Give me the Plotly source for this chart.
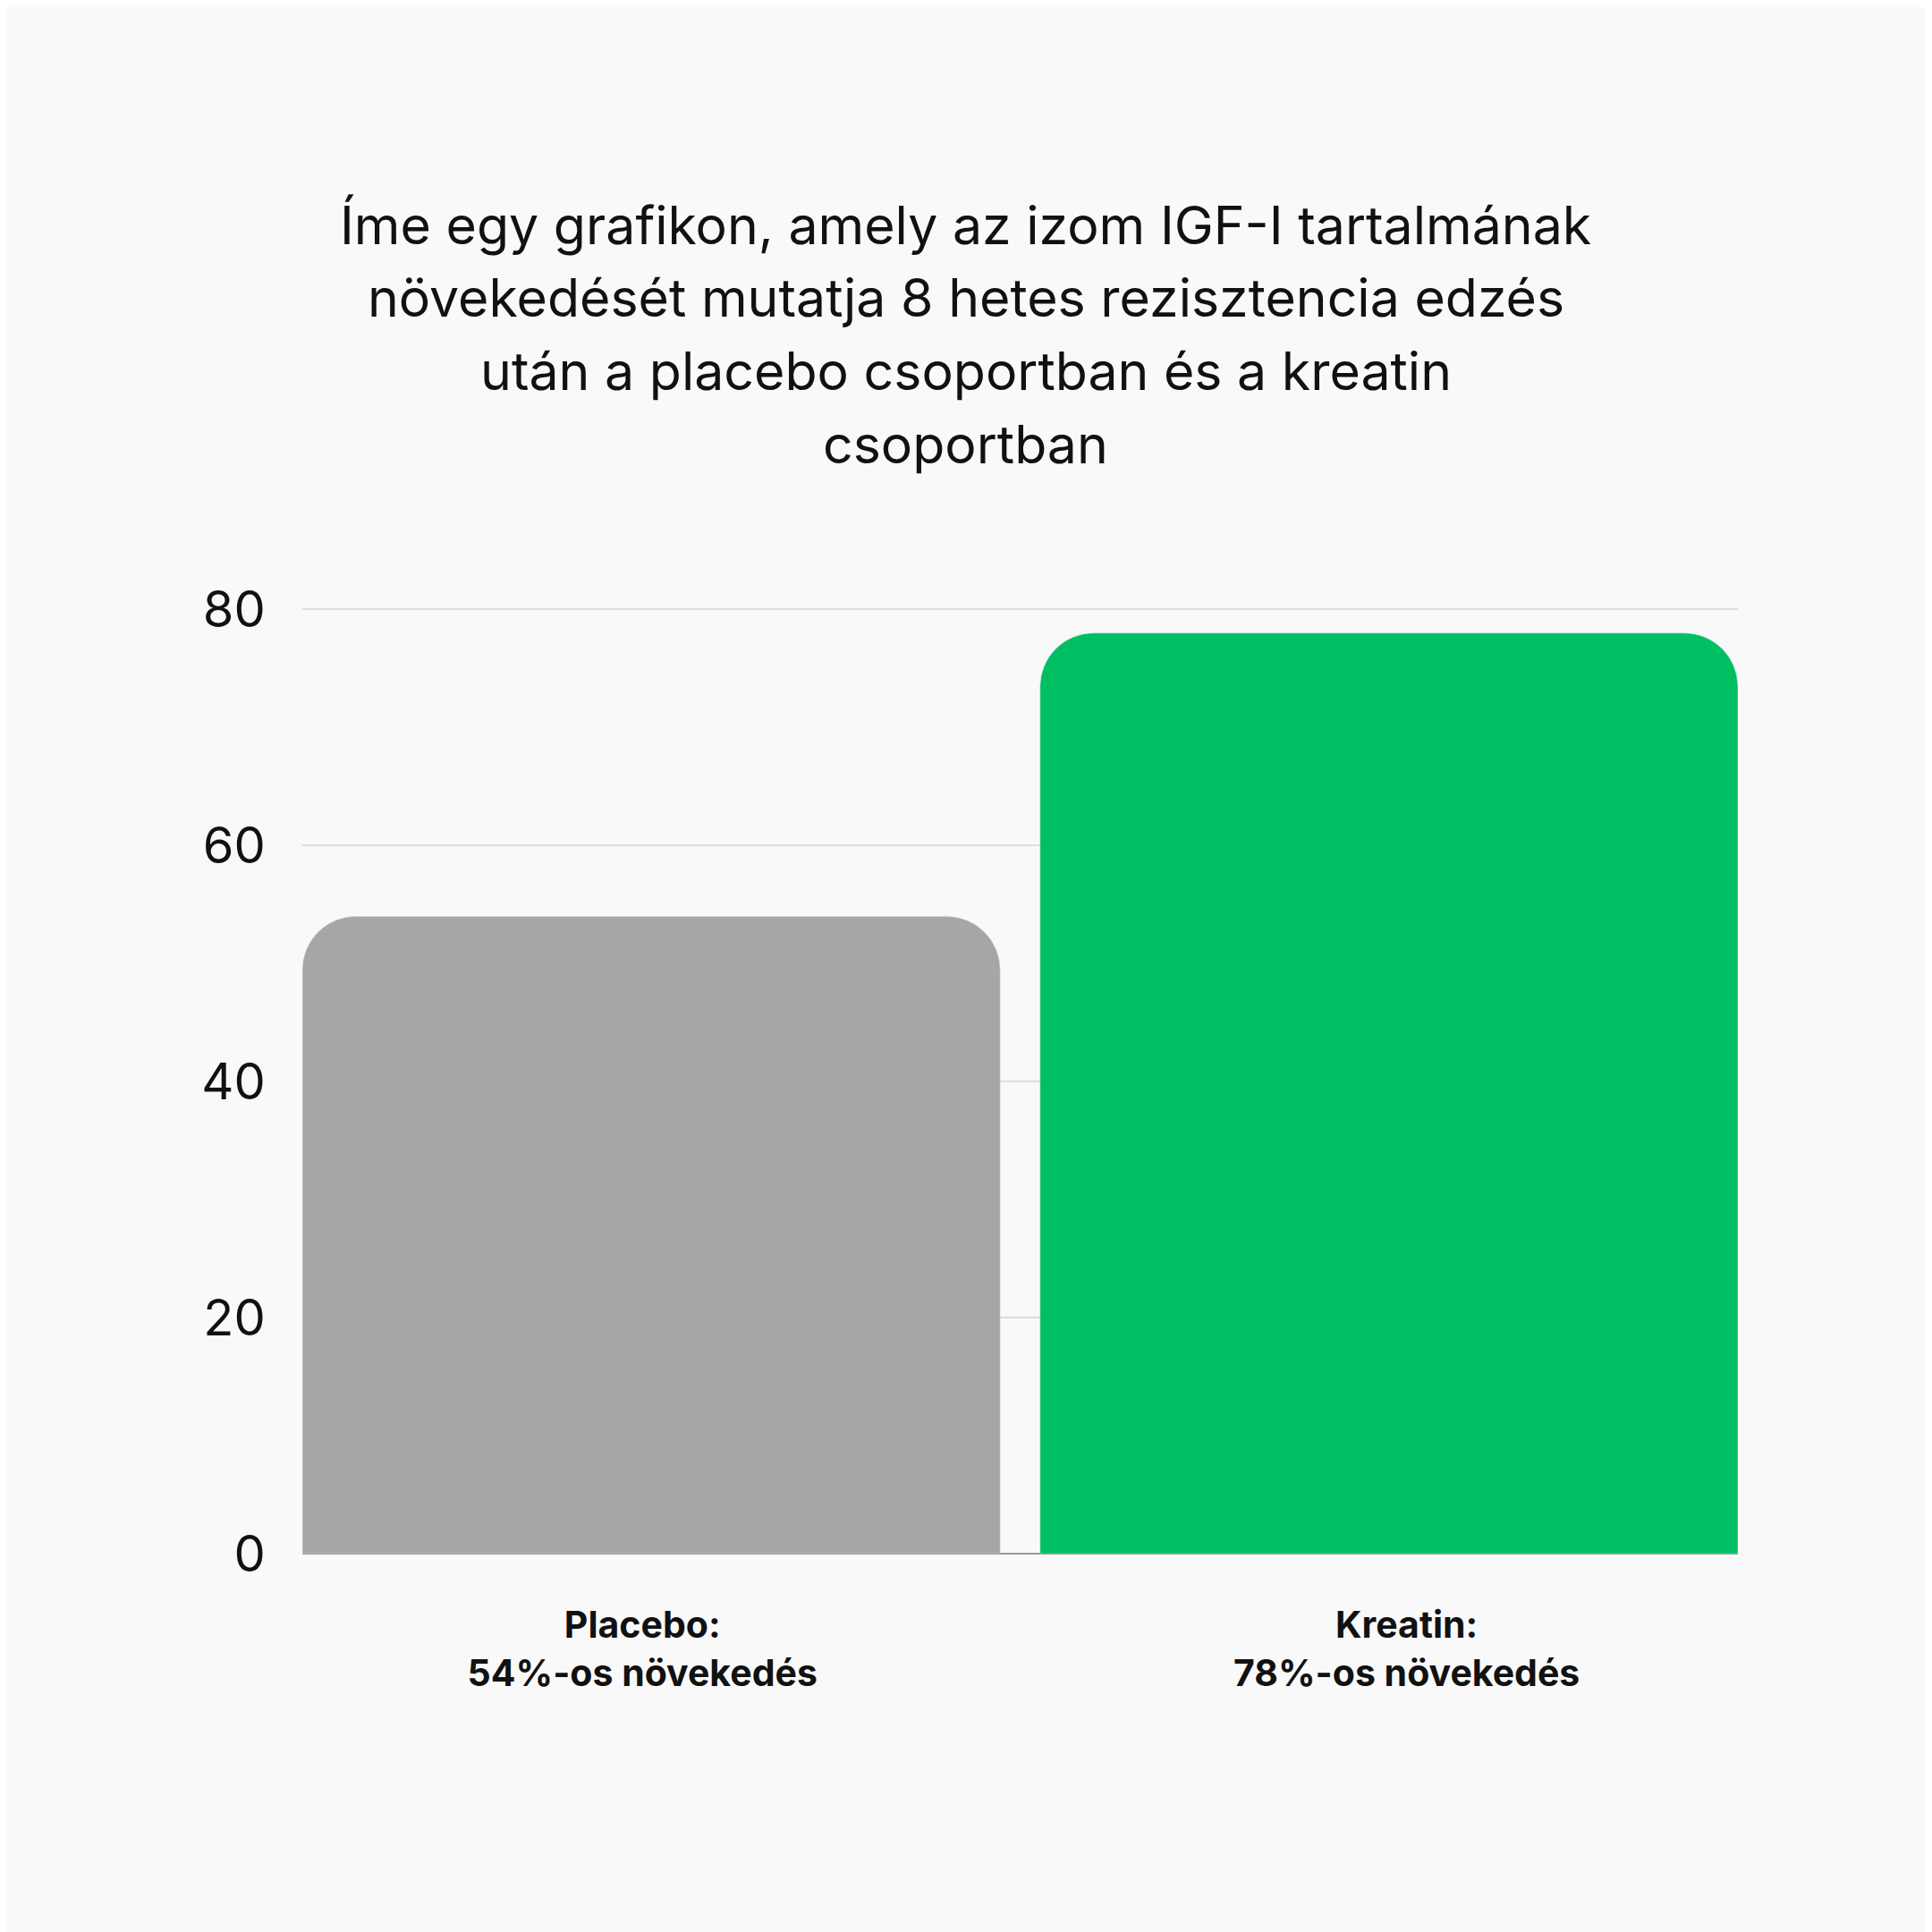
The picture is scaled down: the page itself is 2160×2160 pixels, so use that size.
import plotly.graph_objects as go

# ---------------------------------------------------------------
# data
# ---------------------------------------------------------------
categories = ['Placebo:<br>54%-os növekedés', 'Kreatin:<br>78%-os növekedés']
increase_pct = [54, 78]
bar_colors = ['#a6a6a6', '#00bf63']
y_ticks = [0, 20, 40, 60, 80]

title_lines = [
  'Íme egy grafikon, amely az izom IGF-I tartalmának',
  'növekedését mutatja 8 hetes rezisztencia edzés',
  'után a placebo csoportban és a kreatin',
  'csoportban',
]

# ---------------------------------------------------------------
# layout constants
# ---------------------------------------------------------------
BAR_GAP = 0.054
LABEL_NUDGE = [-0.012, 0.024]   # category labels sit slightly off the bar centres
TITLE_X = 0.4623                 # paper x that lands on the page centre
TITLE_TOP = 1.403                # paper y of first title line
TITLE_STEP = 0.0772              # paper distance between title lines

positions = list(range(len(categories)))

# ---------------------------------------------------------------
# figure
# ---------------------------------------------------------------
fig = go.Figure()
fig.add_trace(
  go.Bar(x=positions, y=increase_pct, marker=dict(color=bar_colors, cornerradius=60),
         hoverinfo='skip')
)

# the page has a small body margin, so margins are nudged up/left to compensate
fig.update_layout(
  width=2160, height=2160,
  paper_bgcolor='#f9f9f9', plot_bgcolor='#f9f9f9',
  font=dict(family='Inter', color='#111111'),
  margin=dict(l=330, r=225, t=670, b=431),
  bargap=BAR_GAP,
  showlegend=False,
)

# title drawn line by line to get the wider line spacing
for i, line in enumerate(title_lines):
  fig.add_annotation(
    text=line, xref='paper', yref='paper', x=TITLE_X, y=TITLE_TOP - i * TITLE_STEP,
    xanchor='center', yanchor='middle', showarrow=False,
    font=dict(size=59, color='#111111'),
  )

fig.update_xaxes(
  range=[-0.5 + BAR_GAP / 2, 1.5 - BAR_GAP / 2],
  tickvals=[p + n for p, n in zip(positions, LABEL_NUDGE)], ticktext=categories,
  showgrid=False, showline=False, zeroline=False,
  tickfont=dict(size=41, color='#111111', weight='bold'),
  ticks='outside', ticklen=44, tickcolor='rgba(0,0,0,0)',
)

fig.update_yaxes(
  range=[0, 80.25], tickvals=y_ticks,
  showgrid=True, gridcolor='#dddddd', gridwidth=2,
  zeroline=True, zerolinecolor='#999999', zerolinewidth=2,
  showline=False,
  tickfont=dict(size=56, color='#111111'),
  ticks='outside', ticklen=29, tickcolor='rgba(0,0,0,0)',
)

fig.write_html('out.html')
